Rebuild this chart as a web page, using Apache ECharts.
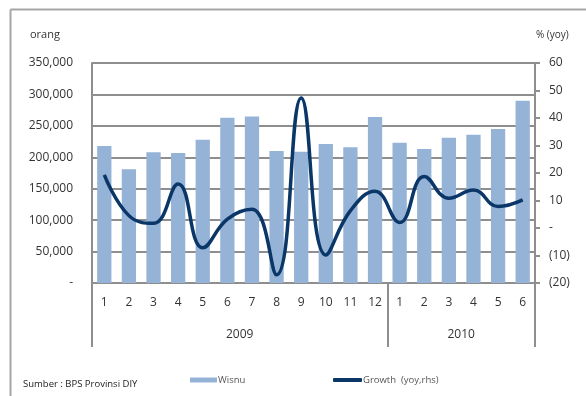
<!DOCTYPE html>
<html>
<head>
<meta charset="utf-8">
<script src="https://cdn.jsdelivr.net/npm/echarts@6/dist/echarts.min.js"></script>
<style>
html,body{margin:0;padding:0;background:#fff;}
#chart{width:586px;height:396px;}
</style>
</head>
<body>
<div id="chart"></div>
<script>
// ---- data ----
var months = ['1','2','3','4','5','6','7','8','9','10','11','12','1','2','3','4','5','6'];
var years = ['2009','2010'];
var monthsPerYear = [12, 6];
var wisnu = [218000,181000,208000,207000,228000,263000,265000,210000,209000,221000,216000,264000,223000,213000,231000,236000,245000,290000];
var growth = [19.3,4.5,1.7,16,-7.2,3.2,6.8,-17,47.3,-9.8,6.3,13.4,2,18.7,10.8,13.8,7.8,10.2];
var seriesNames = ['Wisnu','Growth  (yoy,rhs)'];
var leftTicks = [0,50000,100000,150000,200000,250000,300000,350000];
var rightTicks = [-20,-10,0,10,20,30,40,50,60];
var sourceText = 'Sumber : BPS Provinsi DIY';
var leftUnit = 'orang';
var rightUnit = '% (yoy)';

// year-level positions derived from month counts
var yearBounds = [0];
var yearCenters = [];
monthsPerYear.forEach(function(n, i){
  var start = yearBounds[yearBounds.length-1];
  yearCenters.push(start + n/2);
  yearBounds.push(start + n);
});

var FONT = '"Open Sans", "Noto Sans", sans-serif';
var GRID_GRAY = '#8e8e8e';
var TEXT = '#333';

var chart = echarts.init(document.getElementById('chart'));
chart.setOption({
  animation: false,
  textStyle: {fontFamily: FONT},
  grid: {left: 92, right: 51, top: 63, bottom: 113, containLabel: false},
  legend: [
    {data: [seriesNames[0]], left: 185, top: 370, itemWidth: 27, itemHeight: 5, icon: 'rect',
     textStyle: {fontSize: 9.5, color: '#555', fontFamily: FONT, padding: [0,0,0,-4]}},
    {data: [seriesNames[1]], left: 328, top: 370, itemWidth: 29, itemHeight: 4, icon: 'roundRect',
     textStyle: {fontSize: 9.5, color: '#555', fontFamily: FONT, padding: [0,0,0,-4]}}
  ],
  xAxis: [
    {
      type: 'category', data: months, boundaryGap: true, position: 'bottom',
      axisLine: {show: true, onZero: false, lineStyle: {color: GRID_GRAY, width: 2}},
      axisTick: {show: false},
      axisLabel: {color: TEXT, fontSize: 12, margin: 14, interval: 0}
    },
    {
      type: 'value', min: 0, max: yearBounds[yearBounds.length-1], position: 'bottom',
      axisLine: {show: false},
      splitLine: {show: false},
      axisTick: {show: true, customValues: yearBounds, length: 64, inside: false,
                 lineStyle: {color: GRID_GRAY, width: 2}},
      axisLabel: {show: true, customValues: yearCenters, color: TEXT, fontSize: 12, margin: 46,
                  formatter: function(v){ var i = yearCenters.indexOf(v); return i >= 0 ? years[i] : ''; }}
    }
  ],
  yAxis: [
    {
      type: 'value', min: leftTicks[0], max: leftTicks[leftTicks.length-1], interval: leftTicks[1]-leftTicks[0],
      position: 'left',
      axisLine: {show: true, lineStyle: {color: GRID_GRAY, width: 2}},
      axisTick: {show: false},
      splitLine: {show: true, lineStyle: {color: GRID_GRAY, width: 2}},
      axisLabel: {color: TEXT, fontSize: 12, margin: 19,
                  formatter: function(v){ return v === 0 ? '-' : v.toLocaleString('en-US'); }}
    },
    {
      type: 'value', min: rightTicks[0], max: rightTicks[rightTicks.length-1], interval: rightTicks[1]-rightTicks[0],
      position: 'right',
      axisLine: {show: true, lineStyle: {color: GRID_GRAY, width: 2}},
      axisTick: {show: true, length: 5, lineStyle: {color: GRID_GRAY, width: 2}},
      splitLine: {show: false},
      axisLabel: {color: TEXT, fontSize: 12, margin: 14,
                  formatter: function(v){ return v === 0 ? '-' : (v < 0 ? '(' + Math.abs(v) + ')' : String(v)); }}
    }
  ],
  series: [
    {name: seriesNames[0], type: 'bar', data: wisnu, xAxisIndex: 0, yAxisIndex: 0,
     barWidth: '58%', itemStyle: {color: '#95b3d7'}, z: 2},
    {name: seriesNames[1], type: 'line', data: growth, xAxisIndex: 0, yAxisIndex: 1,
     smooth: 0.45, symbol: 'none', lineStyle: {color: '#0b3768', width: 3.5},
     itemStyle: {color: '#0b3768'}, z: 3}
  ],
  graphic: [
    {type: 'line', shape: {x1: 10.5, y1: 9.5, x2: 586, y2: 9.5}, style: {stroke: '#a6a6a6', lineWidth: 2}, silent: true},
    {type: 'line', shape: {x1: 10.5, y1: 9.5, x2: 10.5, y2: 396}, style: {stroke: '#a6a6a6', lineWidth: 2}, silent: true},
    {type: 'text', left: 30, top: 29, style: {text: leftUnit, font: '11px ' + FONT, fill: TEXT}},
    {type: 'text', left: 536, top: 30, style: {text: rightUnit, font: '10px ' + FONT, fill: TEXT}},
    {type: 'text', left: 23, top: 379, style: {text: sourceText, font: '9.5px ' + FONT, fill: '#222'}}
  ]
});
</script>
</body>
</html>
